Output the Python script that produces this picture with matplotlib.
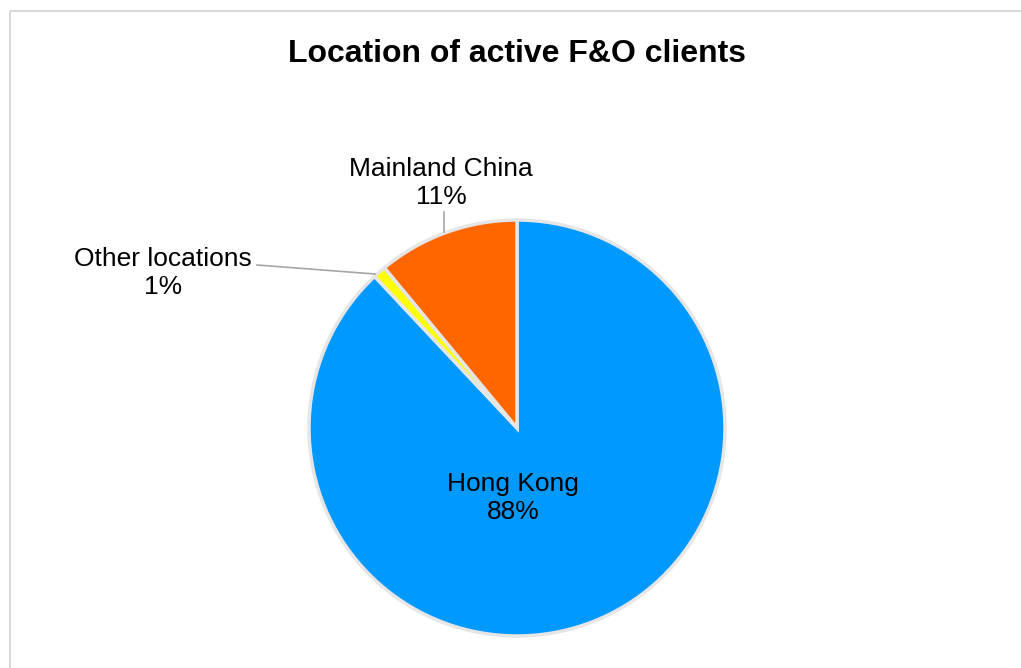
import matplotlib.pyplot as plt

plt.rcParams['font.family'] = ['Liberation Sans', 'DejaVu Sans']

# data
locations = ["Hong Kong", "Other locations", "Mainland China"]
shares = [88, 1, 11]
colors = ["#0099FF", "#FFFF00", "#FF6600"]

W, H = 1021, 668
fig = plt.figure(figsize=(W / 100, H / 100), dpi=100)
ax = fig.add_axes([0, 0, 1, 1])

# chart frame (only top and left visible)
ax.plot([10, W + 5], [H - 11, H - 11], color="#D9D9D9", lw=1.5, solid_capstyle='butt')
ax.plot([10, 10], [H - 11, -5], color="#D9D9D9", lw=1.5, solid_capstyle='butt')

cx, cy, r = 517, H - 428, 208
ax.pie(shares, colors=colors, startangle=90, counterclock=False,
       center=(cx, cy), radius=r, frame=True,
       wedgeprops=dict(edgecolor="#E6E6E6", linewidth=2.5))
ax.set_xlim(0, W)
ax.set_ylim(0, H)
ax.set_aspect('equal')
ax.axis('off')

ax.text(517, H - 54, "Location of active F&O clients", ha='center', va='center',
        fontsize=23, fontweight='bold')

lbl = dict(ha='center', va='center', fontsize=19, linespacing=1.2)
ax.text(513, H - 498, f"{locations[0]}\n{shares[0]}%", **lbl)
ax.text(441, H - 183, f"{locations[2]}\n{shares[2]}%", **lbl)
ax.text(163, H - 273, f"{locations[1]}\n{shares[1]}%", **lbl)

# leader lines
ax.plot([444, 444], [H - 212, H - 232], color="#A6A6A6", lw=1.2)
ax.plot([257, 375], [H - 265, H - 274], color="#A6A6A6", lw=1.2)

fig.savefig("out.png", dpi=100, facecolor="white")
